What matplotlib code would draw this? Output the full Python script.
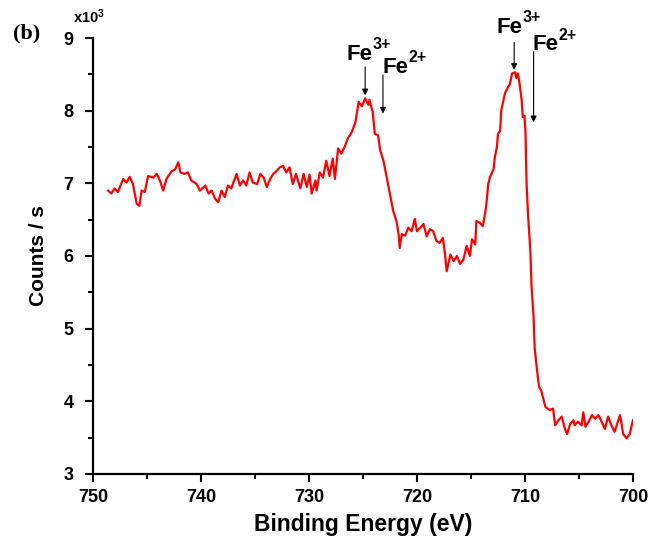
import matplotlib
matplotlib.use("Agg")
import matplotlib.pyplot as plt
from matplotlib.ticker import MultipleLocator

plt.rcParams['font.family'] = ['Liberation Sans', 'DejaVu Sans']
plt.rcParams['font.weight'] = 'bold'
plt.rcParams['mathtext.fontset'] = 'custom'
plt.rcParams['mathtext.rm'] = 'Liberation Sans:bold'
plt.rcParams['mathtext.bf'] = 'Liberation Sans:bold'
plt.rcParams['mathtext.it'] = 'Liberation Sans:bold'

# Fe 2p spectrum, binding energy (eV) vs counts/s (x10^3)
energy = [748.6, 748.3, 748.0, 747.7, 747.2, 746.9, 746.6, 746.3, 745.95, 745.7,
          745.5, 745.2, 744.9, 744.4, 744.1, 743.8, 743.5, 743.2, 742.7, 742.4,
          742.1, 741.9, 741.5, 741.2, 740.9, 740.4, 740.1, 739.6, 739.3, 739.0,
          738.7, 738.4, 738.1, 737.8, 737.5, 737.2, 736.7, 736.4, 736.1, 735.8,
          735.5, 735.2, 734.8, 734.5, 734.2, 733.9, 733.6, 733.3, 733.0, 732.7,
          732.4, 732.1, 731.8, 731.5, 731.2, 730.8, 730.5, 730.2, 729.95, 729.75,
          729.4, 729.3, 729.0, 728.7, 728.4, 728.1, 727.8, 727.6, 727.3, 727.0,
          726.7, 726.4, 726.05, 725.7, 725.4, 725.1, 724.8, 724.5, 724.4, 724.1,
          723.9, 723.6, 723.4, 723.1, 722.8, 722.5, 722.2, 721.9, 721.7, 721.6,
          721.4, 721.1, 720.8, 720.5, 720.2, 720.0, 719.7, 719.4, 719.1, 718.8,
          718.5, 718.2, 717.9, 717.6, 717.4, 717.25, 716.9, 716.6, 716.3, 716.0,
          715.7, 715.4, 715.1, 714.9, 714.6, 714.5, 714.2, 713.9, 713.6, 713.4,
          713.25, 712.9, 712.8, 712.6, 712.5, 712.3, 712.2, 711.85, 711.55, 711.4,
          711.2, 710.9, 710.8, 710.65, 710.5, 710.3, 710.2, 710.05, 709.95, 709.85,
          709.7, 709.5, 709.4, 709.2, 709.1, 708.9, 708.7, 708.5, 708.1, 707.7,
          707.4, 707.2, 706.9, 706.6, 706.3, 706.1, 705.8, 705.5, 705.4, 705.1,
          704.75, 704.6, 704.4, 704.1, 703.8, 703.5, 703.2, 702.9, 702.6, 702.3,
          702.0, 701.7, 701.2, 700.9, 700.6, 700.3, 700.0]
counts = [6.90, 6.86, 6.93, 6.88, 7.06, 7.01, 7.09, 6.99, 6.72, 6.69,
          6.90, 6.88, 7.10, 7.08, 7.13, 7.04, 6.90, 7.06, 7.17, 7.19,
          7.29, 7.15, 7.13, 7.15, 7.04, 6.99, 6.90, 6.97, 6.86, 6.90,
          6.79, 6.74, 6.90, 6.81, 6.97, 6.93, 7.13, 6.97, 7.04, 6.97,
          7.15, 7.01, 6.99, 7.13, 7.08, 6.95, 7.06, 7.13, 7.17, 7.22,
          7.24, 7.15, 7.22, 6.99, 7.13, 6.93, 7.13, 6.95, 7.12, 6.86,
          7.04, 6.90, 7.15, 7.08, 7.31, 7.10, 7.34, 7.06, 7.48, 7.41,
          7.50, 7.62, 7.70, 7.84, 8.12, 8.06, 8.17, 8.08, 8.15, 7.98,
          7.68, 7.66, 7.45, 7.31, 7.08, 6.85, 6.62, 6.48, 6.30, 6.11,
          6.30, 6.28, 6.39, 6.34, 6.51, 6.34, 6.39, 6.44, 6.27, 6.37,
          6.34, 6.21, 6.18, 6.25, 6.02, 5.79, 6.02, 5.93, 6.00, 5.89,
          5.95, 6.14, 6.00, 6.23, 6.16, 6.48, 6.46, 6.41, 6.67, 6.99,
          7.08, 7.20, 7.35, 7.50, 7.68, 7.72, 8.00, 8.24, 8.33, 8.36,
          8.51, 8.53, 8.45, 8.51, 8.37, 8.14, 7.91, 7.93, 7.70, 6.99,
          6.53, 6.07, 5.61, 5.15, 4.73, 4.45, 4.20, 4.15, 3.92, 3.88,
          3.90, 3.67, 3.74, 3.79, 3.62, 3.55, 3.69, 3.74, 3.67, 3.72,
          3.67, 3.85, 3.65, 3.72, 3.81, 3.76, 3.81, 3.72, 3.62, 3.79,
          3.67, 3.58, 3.81, 3.55, 3.49, 3.55, 3.74]

# peak labels: (ion, charge, text x, text y, arrow x, arrow start y, arrow end y)
peak_labels = [("Fe", "3+", 726.5, 8.70, 724.8, 8.60, 8.21),
               ("Fe", "2+", 723.15, 8.52, 723.15, 8.49, 7.96),
               ("Fe", "3+", 712.6, 9.07, 711.0, 8.94, 8.56),
               ("Fe", "2+", 709.3, 8.83, 709.2, 8.81, 7.84)]

fig = plt.figure(figsize=(6.59, 5.46), dpi=100)
ax = fig.add_axes([0.1411, 0.1319, 0.8194, 0.7985])

ax.plot(energy, counts, color='red', lw=1.6)

ax.set_xlim(750, 700)
ax.set_ylim(3, 9)
ax.xaxis.set_major_locator(MultipleLocator(10))
ax.xaxis.set_minor_locator(MultipleLocator(5))
ax.yaxis.set_major_locator(MultipleLocator(1))
ax.yaxis.set_minor_locator(MultipleLocator(0.5))
ax.spines['top'].set_visible(False)
ax.spines['right'].set_visible(False)
for s in ['left', 'bottom']:
    ax.spines[s].set_linewidth(1.6)
ax.tick_params(which='major', direction='out', length=6, width=1.5,
               labelsize=13)
ax.tick_params(axis='y', which='major', pad=8)
ax.tick_params(axis='x', which='major', pad=5)
ax.tick_params(which='minor', direction='out', length=3.5, width=1.5)
for lab in ax.get_xticklabels() + ax.get_yticklabels():
    lab.set_fontweight('bold')

ax.set_xlabel("Binding Energy (eV)", fontsize=16.5, fontweight='bold', labelpad=5)
ax.set_ylabel("Counts / s", fontsize=15, fontweight='bold', labelpad=11)

for ion, charge, tx, ty, axx, y0, y1 in peak_labels:
    ax.text(tx, ty, ion, fontsize=16, fontweight='bold', ha='left', va='baseline')
    ax.annotate(charge, xy=(tx, ty), xytext=(18.5, 7.5), textcoords='offset points',
                fontsize=11.5, fontweight='bold', ha='left', va='baseline',
                annotation_clip=False)
    ax.annotate('', xy=(axx, y1), xytext=(axx, y0), annotation_clip=False,
                arrowprops=dict(arrowstyle='-|>', color='black', lw=0.8,
                                mutation_scale=9, shrinkA=0, shrinkB=0))

ax.text(-0.037, 1.035, "x10$^{3}$", transform=ax.transAxes, fontsize=10.5,
        fontweight='bold', ha='left', va='baseline')
fig.text(0.0197, 0.930, "(b)", family=['Liberation Serif', 'DejaVu Serif'],
         fontsize=16, fontweight='bold', ha='left', va='baseline')

fig.savefig("out.png", dpi=100)
